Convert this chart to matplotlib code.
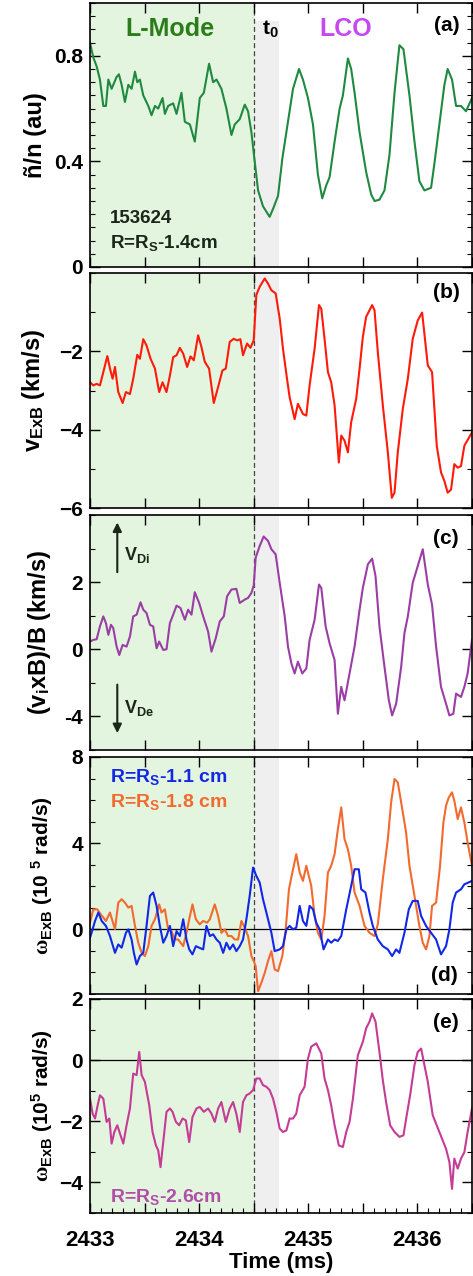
#!/usr/bin/env python3
# LCO time traces: density fluctuation, ExB velocity, vixB/B, ExB shear

import matplotlib
matplotlib.use("Agg")
from matplotlib import pyplot as plt
from matplotlib.ticker import MultipleLocator, FuncFormatter, FixedLocator, FixedFormatter, NullLocator

################
#   DATA       #
################
# (a) density fluctuation level, au
t_a = [2433.000, 2433.030, 2433.061, 2433.091, 2433.122, 2433.146, 2433.168, 2433.198, 2433.244, 2433.265,
       2433.290, 2433.320, 2433.351, 2433.381, 2433.412, 2433.433, 2433.457, 2433.488, 2433.534, 2433.564,
       2433.595, 2433.625, 2433.665, 2433.686, 2433.716, 2433.762, 2433.793, 2433.838, 2433.869, 2433.915,
       2433.960, 2434.006, 2434.043, 2434.091, 2434.128, 2434.159, 2434.204, 2434.250, 2434.296, 2434.326,
       2434.372, 2434.418, 2434.448, 2434.479, 2434.509, 2434.540, 2434.585, 2434.646, 2434.677, 2434.723,
       2434.762, 2434.799, 2434.860, 2434.915, 2434.951, 2434.997, 2435.043, 2435.088, 2435.128, 2435.165,
       2435.195, 2435.241, 2435.287, 2435.317, 2435.363, 2435.393, 2435.424, 2435.470, 2435.530, 2435.576,
       2435.607, 2435.652, 2435.698, 2435.744, 2435.790, 2435.835, 2435.872, 2435.927, 2435.973, 2436.018,
       2436.064, 2436.125, 2436.155, 2436.201, 2436.247, 2436.277, 2436.317, 2436.354, 2436.399, 2436.445,
       2436.500]
ntilde = [0.85, 0.794, 0.76, 0.71, 0.61, 0.61, 0.71, 0.675, 0.72, 0.73,
          0.69, 0.625, 0.69, 0.675, 0.74, 0.70, 0.71, 0.65, 0.61, 0.575,
          0.61, 0.60, 0.64, 0.58, 0.61, 0.62, 0.58, 0.66, 0.55, 0.54,
          0.475, 0.64, 0.66, 0.77, 0.70, 0.71, 0.675, 0.60, 0.50, 0.54,
          0.56, 0.615, 0.59, 0.51, 0.40, 0.29, 0.23, 0.19, 0.22, 0.27,
          0.41, 0.51, 0.675, 0.75, 0.71, 0.64, 0.54, 0.35, 0.26, 0.31,
          0.34, 0.475, 0.60, 0.65, 0.79, 0.75, 0.66, 0.51, 0.36, 0.275,
          0.25, 0.255, 0.29, 0.425, 0.66, 0.84, 0.825, 0.65, 0.475, 0.325,
          0.29, 0.30, 0.39, 0.54, 0.69, 0.75, 0.71, 0.61, 0.61, 0.59,
          0.64]

# (b) v_ExB, km/s
t_b = [2433.000, 2433.030, 2433.061, 2433.091, 2433.122, 2433.159, 2433.183, 2433.207, 2433.229, 2433.259,
       2433.299, 2433.329, 2433.366, 2433.396, 2433.433, 2433.457, 2433.488, 2433.518, 2433.555, 2433.595,
       2433.634, 2433.665, 2433.701, 2433.732, 2433.762, 2433.793, 2433.823, 2433.854, 2433.890, 2433.921,
       2433.951, 2433.991, 2434.021, 2434.052, 2434.091, 2434.134, 2434.174, 2434.213, 2434.244, 2434.280,
       2434.317, 2434.348, 2434.378, 2434.402, 2434.439, 2434.470, 2434.500, 2434.524, 2434.555, 2434.601,
       2434.631, 2434.662, 2434.701, 2434.738, 2434.768, 2434.805, 2434.829, 2434.875, 2434.905, 2434.951,
       2434.982, 2435.012, 2435.058, 2435.098, 2435.119, 2435.149, 2435.180, 2435.210, 2435.241, 2435.280,
       2435.302, 2435.332, 2435.363, 2435.393, 2435.439, 2435.470, 2435.500, 2435.530, 2435.585, 2435.607,
       2435.637, 2435.683, 2435.729, 2435.765, 2435.790, 2435.820, 2435.866, 2435.912, 2435.957, 2436.003,
       2436.043, 2436.095, 2436.134, 2436.177, 2436.216, 2436.247, 2436.277, 2436.308, 2436.338, 2436.369,
       2436.399, 2436.430, 2436.500]
v_exb = [-2.79, -2.87, -2.83, -2.87, -2.53, -2.12, -2.44, -2.70, -2.40, -3.04,
         -3.32, -3.04, -3.09, -2.70, -2.09, -2.19, -1.69, -1.85, -2.19, -2.44,
         -3.04, -2.79, -3.04, -2.62, -2.15, -2.10, -1.91, -2.06, -2.40, -2.13,
         -2.23, -1.59, -1.89, -2.27, -2.44, -3.32, -2.91, -2.49, -2.44, -1.76,
         -1.68, -1.72, -1.69, -2.10, -1.80, -1.91, -1.72, -0.56, -0.35, -0.14,
         -0.27, -0.44, -0.52, -1.16, -1.93, -2.70, -3.17, -3.73, -3.34, -3.60,
         -3.64, -2.87, -1.93, -0.82, -0.91, -1.68, -2.53, -2.79, -3.38, -4.84,
         -4.15, -4.28, -4.58, -3.81, -3.21, -2.44, -1.63, -1.12, -0.82, -0.95,
         -2.02, -3.38, -4.58, -5.74, -5.61, -4.58, -3.47, -2.70, -1.68, -1.21,
         -1.01, -2.36, -2.53, -4.41, -5.09, -5.31, -5.61, -5.53, -4.88, -4.97,
         -4.93, -4.41, -4.07]

# (c) (v_i x B)/B, km/s
t_c = [2433.000, 2433.030, 2433.061, 2433.091, 2433.122, 2433.146, 2433.168, 2433.192, 2433.213, 2433.244,
       2433.268, 2433.299, 2433.335, 2433.366, 2433.396, 2433.427, 2433.463, 2433.488, 2433.518, 2433.549,
       2433.579, 2433.610, 2433.634, 2433.671, 2433.701, 2433.732, 2433.762, 2433.793, 2433.829, 2433.869,
       2433.899, 2433.930, 2433.960, 2434.000, 2434.037, 2434.082, 2434.113, 2434.152, 2434.189, 2434.226,
       2434.256, 2434.296, 2434.341, 2434.372, 2434.418, 2434.448, 2434.479, 2434.500, 2434.518, 2434.555,
       2434.591, 2434.631, 2434.662, 2434.701, 2434.738, 2434.784, 2434.814, 2434.845, 2434.875, 2434.905,
       2434.945, 2434.982, 2435.012, 2435.058, 2435.098, 2435.119, 2435.159, 2435.195, 2435.241, 2435.271,
       2435.302, 2435.332, 2435.378, 2435.424, 2435.470, 2435.500, 2435.546, 2435.585, 2435.616, 2435.652,
       2435.698, 2435.738, 2435.768, 2435.805, 2435.851, 2435.881, 2435.912, 2435.957, 2436.003, 2436.049,
       2436.095, 2436.134, 2436.171, 2436.216, 2436.262, 2436.293, 2436.329, 2436.354, 2436.399, 2436.430,
       2436.460, 2436.500]
vixb = [0.23, 0.28, 0.30, 0.68, 0.98, 0.78, 0.43, 0.73, 0.63, 0.08,
        -0.17, 0.13, 0.08, 0.38, 0.98, 1.03, 1.40, 1.18, 1.08, 0.73,
        0.68, 0.03, 0.23, -0.02, 0.00, 0.78, 1.03, 1.30, 1.23, 0.88,
        1.18, 1.03, 1.70, 1.38, 0.98, 0.53, -0.07, 0.33, 0.83, 0.98,
        1.58, 1.78, 1.80, 1.38, 1.48, 1.53, 1.68, 1.90, 2.73, 3.08,
        3.36, 3.23, 2.98, 2.83, 1.98, 0.98, 0.08, -0.42, -0.72, -0.37,
        -0.72, -0.57, 0.28, 0.88, 1.93, 1.83, 0.68, 0.18, -0.32, -1.92,
        -1.12, -1.52, -0.72, 0.08, 1.18, 1.83, 2.53, 2.70, 2.18, 0.68,
        -0.52, -1.52, -1.97, -1.62, -0.52, 0.48, 0.98, 1.98, 2.48, 2.98,
        1.93, 1.33, 0.08, -1.12, -1.62, -1.97, -1.92, -1.32, -1.42, -1.12,
        -0.72, 0.28]
vixb_ticks = [-2, 0, 2]
vixb_ticklabels = ["-4", "0", "2"]

# (d) omega_ExB at two radii, 1e5 rad/s
t_d1 = [2433.000, 2433.024, 2433.046, 2433.076, 2433.107, 2433.146, 2433.183, 2433.229, 2433.259, 2433.290,
        2433.329, 2433.351, 2433.381, 2433.402, 2433.427, 2433.457, 2433.488, 2433.518, 2433.549, 2433.579,
        2433.610, 2433.640, 2433.671, 2433.701, 2433.732, 2433.762, 2433.793, 2433.823, 2433.854, 2433.884,
        2433.909, 2433.939, 2433.970, 2434.000, 2434.037, 2434.067, 2434.098, 2434.128, 2434.159, 2434.189,
        2434.220, 2434.250, 2434.280, 2434.311, 2434.341, 2434.372, 2434.402, 2434.433, 2434.463, 2434.494,
        2434.524, 2434.555, 2434.585, 2434.616, 2434.662, 2434.692, 2434.738, 2434.768, 2434.799, 2434.829,
        2434.860, 2434.890, 2434.921, 2434.951, 2434.982, 2435.012, 2435.043, 2435.073, 2435.104, 2435.140,
        2435.180, 2435.210, 2435.241, 2435.271, 2435.302, 2435.348, 2435.393, 2435.424, 2435.463, 2435.485,
        2435.524, 2435.561, 2435.591, 2435.637, 2435.683, 2435.729, 2435.768, 2435.805, 2435.835, 2435.881,
        2435.921, 2435.957, 2436.003, 2436.034, 2436.079, 2436.125, 2436.171, 2436.216, 2436.262, 2436.293,
        2436.323, 2436.354, 2436.399, 2436.430, 2436.500]
w_11 = [-0.39, 0.0, 0.39, 0.78, 0.39, 0.16, -0.31, -1.09, -0.70, -0.85,
        -0.16, 0.0, -0.47, -1.09, -1.63, -1.24, -1.09, 0.16, 1.55, 1.71,
        1.09, 0.16, -0.62, -0.31, 0.16, -0.78, -0.08, -0.31, 0.47, -0.47,
        -0.93, -1.16, -0.78, -0.85, -0.93, 0.16, -0.31, -0.23, -0.47, -0.62,
        -1.09, -0.62, -0.93, -0.70, -1.01, -0.78, -0.47, 0.47, 1.55, 2.87,
        2.48, 2.17, 1.40, 0.78, -0.16, -1.01, -0.93, -0.78, 0.0, 0.16,
        0.0, 0.08, 1.09, 0.39, 0.16, 1.09, 0.93, 0.31, 0.0, -0.93,
        -0.47, -0.62, -0.47, -0.54, -0.31, 0.93, 2.02, 2.79, 2.79, 1.86,
        1.71, 0.78, 0.16, -0.47, -0.78, -0.93, -1.24, -0.93, -1.09, -0.16,
        0.93, 1.32, 1.32, 0.62, 0.16, -0.16, -0.47, -1.16, -0.78, 0.0,
        1.24, 1.71, 1.86, 2.09, 2.25]
t_d2 = [2433.000, 2433.030, 2433.067, 2433.098, 2433.146, 2433.183, 2433.229, 2433.259, 2433.290, 2433.320,
        2433.351, 2433.381, 2433.412, 2433.442, 2433.473, 2433.503, 2433.534, 2433.564, 2433.595, 2433.634,
        2433.655, 2433.686, 2433.716, 2433.747, 2433.777, 2433.808, 2433.854, 2433.884, 2433.909, 2433.939,
        2433.970, 2434.006, 2434.037, 2434.073, 2434.098, 2434.143, 2434.174, 2434.204, 2434.235, 2434.265,
        2434.296, 2434.326, 2434.357, 2434.387, 2434.418, 2434.448, 2434.479, 2434.500, 2434.518, 2434.540,
        2434.570, 2434.601, 2434.631, 2434.662, 2434.692, 2434.723, 2434.762, 2434.793, 2434.823, 2434.854,
        2434.890, 2434.921, 2434.951, 2434.982, 2435.027, 2435.058, 2435.088, 2435.119, 2435.149, 2435.180,
        2435.210, 2435.241, 2435.271, 2435.302, 2435.332, 2435.363, 2435.393, 2435.424, 2435.470, 2435.515,
        2435.561, 2435.607, 2435.637, 2435.683, 2435.729, 2435.759, 2435.790, 2435.820, 2435.851, 2435.896,
        2435.927, 2435.973, 2436.018, 2436.049, 2436.079, 2436.110, 2436.134, 2436.171, 2436.207, 2436.238,
        2436.262, 2436.287, 2436.317, 2436.338, 2436.369, 2436.399, 2436.430, 2436.460, 2436.500]
w_18 = [0.31, 0.93, 0.93, 0.70, 0.39, 0.78, 0.0, 1.24, 1.40, 1.24,
        1.01, 1.09, 0.16, -0.62, -1.09, -1.24, -0.78, 0.16, 0.47, 1.16,
        0.78, 0.93, 0.0, -0.08, -0.47, -0.47, -0.78, -0.16, 0.47, 1.16,
        0.47, 0.23, 0.39, 0.31, 0.47, 1.16, 0.62, -0.16, 0.0, -0.31,
        -0.31, -0.47, -0.47, 0.39, 0.08, -0.31, -1.24, -1.47, -1.71, -2.87,
        -2.48, -2.02, -1.47, -1.01, -1.86, -1.94, -1.24, 0.0, 1.86, 2.64,
        3.49, 2.64, 2.25, 2.95, 2.02, 0.62, -0.16, -0.47, 0.62, 2.64,
        2.95, 3.49, 4.65, 5.66, 4.19, 3.72, 2.95, 1.71, 1.09, 0.16,
        -0.16, -0.31, 0.23, 2.33, 4.19, 5.89, 6.98, 6.82, 5.89, 4.50,
        2.95, 1.55, 0.16, -0.62, -0.93, -0.31, 1.09, 1.24, 2.95, 4.96,
        5.74, 6.12, 6.36, 5.97, 5.12, 5.66, 4.96, 4.03, 2.95]

# (e) omega_ExB at R=Rs-2.6cm, 1e5 rad/s
t_e = [2433.000, 2433.024, 2433.046, 2433.070, 2433.091, 2433.122, 2433.152, 2433.177, 2433.198, 2433.223,
       2433.250, 2433.280, 2433.305, 2433.335, 2433.366, 2433.396, 2433.427, 2433.451, 2433.473, 2433.503,
       2433.543, 2433.573, 2433.604, 2433.625, 2433.646, 2433.671, 2433.701, 2433.732, 2433.756, 2433.787,
       2433.817, 2433.848, 2433.878, 2433.909, 2433.939, 2433.976, 2434.006, 2434.043, 2434.082, 2434.113,
       2434.143, 2434.174, 2434.204, 2434.244, 2434.280, 2434.311, 2434.341, 2434.372, 2434.402, 2434.433,
       2434.463, 2434.494, 2434.524, 2434.555, 2434.585, 2434.616, 2434.646, 2434.677, 2434.707, 2434.738,
       2434.768, 2434.799, 2434.829, 2434.860, 2434.890, 2434.921, 2434.966, 2434.997, 2435.027, 2435.073,
       2435.119, 2435.149, 2435.180, 2435.210, 2435.241, 2435.280, 2435.317, 2435.348, 2435.378, 2435.409,
       2435.454, 2435.500, 2435.530, 2435.561, 2435.585, 2435.616, 2435.652, 2435.683, 2435.713, 2435.750,
       2435.790, 2435.835, 2435.872, 2435.902, 2435.933, 2435.973, 2436.003, 2436.034, 2436.064, 2436.095,
       2436.140, 2436.201, 2436.262, 2436.293, 2436.317, 2436.338, 2436.369, 2436.399, 2436.430, 2436.460,
       2436.500]
w_26 = [-1.26, -1.75, -1.91, -1.48, -1.15, -1.26, -2.02, -1.91, -2.73, -2.35,
        -2.13, -2.46, -2.73, -2.13, -1.58, -0.44, -0.49, 0.27, -0.49, -0.71,
        -1.48, -2.35, -2.79, -2.95, -3.50, -2.68, -1.69, -1.58, -1.69, -2.02,
        -2.13, -1.91, -1.97, -2.68, -1.86, -1.58, -1.53, -1.69, -1.58, -1.75,
        -2.02, -1.58, -1.37, -2.02, -1.58, -1.37, -1.75, -2.35, -1.37, -1.15,
        -1.09, -0.98, -0.60, -0.60, -0.82, -0.87, -0.98, -1.26, -1.69, -2.24,
        -2.35, -2.30, -1.91, -1.91, -1.75, -1.15, -0.87, 0.05, 0.44, 0.55,
        0.22, -0.60, -0.98, -1.48, -2.13, -2.79, -2.84, -2.35, -2.02, -1.26,
        0.16, 0.60, 1.04, 1.26, 1.53, 1.26, 0.27, -0.66, -1.37, -2.13,
        -2.35, -2.51, -2.46, -1.80, -1.15, -0.16, 0.27, 0.38, -0.16, -0.71,
        -1.80, -2.35, -2.90, -3.33, -4.21, -3.22, -3.55, -3.22, -3.01, -2.35,
        -1.58]

t_lmode_end = 2434.5
t0_band_end = 2434.73

####################
#   STYLE          #
####################
plt.rcParams["font.family"] = ["Liberation Sans", "DejaVu Sans"]
plt.rcParams["font.weight"] = "bold"
plt.rcParams["axes.labelweight"] = "bold"
plt.rcParams["mathtext.fontset"] = "custom"
plt.rcParams["mathtext.rm"] = "Liberation Sans:bold"
plt.rcParams["mathtext.it"] = "Liberation Sans:bold"
plt.rcParams["mathtext.bf"] = "Liberation Sans:bold"
plt.rcParams["mathtext.sf"] = "Liberation Serif"

GREEN_BG = "#e4f5df"
GRAY_BG = "#efefef"
TXT_DARK = "#1a261a"

fig = plt.figure(figsize=(4.73, 12.76), dpi=100)
W, H = 473.0, 1276.0


def add_panel(top, bottom):
    # pixel box -> figure fraction
    return fig.add_axes([90 / W, (H - bottom) / H, 382 / W, (bottom - top) / H])


boxes = [(3, 267), (273, 508), (515, 750), (757, 994), (999, 1213)]
axes = [add_panel(t, b) for t, b in boxes]


def dress(ax, ylim, band_top=1.0):
    ax.set_xlim(2433, 2436.5)
    ax.set_ylim(*ylim)
    ax.axvspan(2433, t_lmode_end, color=GREEN_BG, lw=0, zorder=0)
    ax.axvspan(t_lmode_end, t0_band_end, ymax=band_top, color=GRAY_BG, lw=0, zorder=0)
    ax.axvline(t_lmode_end, color="#444444", lw=0.9, ls=(0, (4, 2.5)), zorder=1)
    ax.xaxis.set_major_locator(MultipleLocator(0.5))
    ax.xaxis.set_minor_locator(NullLocator())
    ax.xaxis.set_major_formatter(FuncFormatter(lambda v, p: "%d" % v if abs(v - round(v)) < 1e-6 else ""))
    ax.tick_params(which="both", direction="in", top=True, right=True, labelsize=15, pad=5)
    ax.tick_params(which="major", length=7, width=1)
    ax.tick_params(which="minor", length=3.5, width=0.8)
    for s in ax.spines.values():
        s.set_linewidth(1.2)
    ax.tick_params(axis="x", labelbottom=False)


ax_a, ax_b, ax_c, ax_d, ax_e = axes

# (a)
dress(ax_a, (0, 1.0), band_top=0.93)
ax_a.plot(t_a, ntilde, color="#1f8a3f", lw=1.5)
ax_a.yaxis.set_major_locator(FixedLocator([0, 0.4, 0.8]))
ax_a.yaxis.set_major_formatter(FixedFormatter(["0", "0.4", "0.8"]))
ax_a.yaxis.set_minor_locator(MultipleLocator(0.05))
ax_a.set_ylabel("ñ/n (au)", fontsize=17)
ax_a.yaxis.set_label_coords(-0.113, 0.5)
xt = ax_a.get_xaxis_transform()
ax_a.text(2433.73, 0.9, "L-Mode", transform=xt, color="#2a7d18", fontsize=18, ha="center", va="center")
ax_a.text(2434.65, 0.9, "t$_0$", transform=xt, color="black", fontsize=15, ha="center", va="center")
ax_a.text(2435.34, 0.9, "LCO", transform=xt, color="#c648f2", fontsize=18, ha="center", va="center")
ax_a.text(2436.27, 0.915, "(a)", transform=xt, fontsize=15, ha="center", va="center")
ax_a.text(2433.18, 0.185, "153624", transform=xt, color=TXT_DARK, fontsize=13.5, ha="left", va="center")
ax_a.text(2433.18, 0.09, "R=R$_S$-1.4cm", transform=xt, color=TXT_DARK, fontsize=13.5, ha="left", va="center")

# (b)
dress(ax_b, (-6, 0))
ax_b.plot(t_b, v_exb, color="#ff1a0a", lw=1.5)
ax_b.yaxis.set_major_locator(FixedLocator([-6, -4, -2]))
ax_b.yaxis.set_minor_locator(MultipleLocator(1))
ax_b.set_ylabel("v$_{ExB}$ (km/s)", fontsize=17)
ax_b.yaxis.set_label_coords(-0.113, 0.5)
ax_b.text(2436.27, 0.915, "(b)", transform=ax_b.get_xaxis_transform(), fontsize=15, ha="center", va="center")

# (c)
dress(ax_c, (-3, 4))
ax_c.plot(t_c, vixb, color="#9a3ea6", lw=1.5)
ax_c.yaxis.set_major_locator(FixedLocator(vixb_ticks))
ax_c.yaxis.set_major_formatter(FixedFormatter(vixb_ticklabels))
ax_c.yaxis.set_minor_locator(MultipleLocator(1))
ax_c.set_ylabel("(v$_i$xB)/B (km/s)", fontsize=17)
ax_c.yaxis.set_label_coords(-0.097, 0.5)
xt = ax_c.get_xaxis_transform()
ax_c.text(2436.26, 0.9, "(c)", transform=xt, fontsize=15, ha="center", va="center")
ax_c.annotate("", xy=(2433.25, 0.98), xytext=(2433.25, 0.745), xycoords=xt, textcoords=xt,
              arrowprops=dict(arrowstyle="-|>", color=TXT_DARK, lw=1.5, mutation_scale=13))
ax_c.annotate("", xy=(2433.25, 0.06), xytext=(2433.25, 0.29), xycoords=xt, textcoords=xt,
              arrowprops=dict(arrowstyle="-|>", color=TXT_DARK, lw=1.5, mutation_scale=13))
ax_c.text(2433.31, 0.83, "V$_{Di}$", transform=xt, color=TXT_DARK, fontsize=13, ha="left", va="center")
ax_c.text(2433.31, 0.18, "V$_{De}$", transform=xt, color=TXT_DARK, fontsize=13, ha="left", va="center")

# (d)
dress(ax_d, (-3, 8))
ax_d.axhline(0, color="black", lw=0.9, zorder=1)
ax_d.plot(t_d2, w_18, color="#f26a2e", lw=1.5)
ax_d.plot(t_d1, w_11, color="#1228e6", lw=1.5)
ax_d.yaxis.set_major_locator(FixedLocator([0, 4, 8]))
ax_d.yaxis.set_minor_locator(MultipleLocator(1))
ax_d.set_ylabel(r"$\mathsf{\omega}_{ExB}$ (10 $^5$ rad/s)", fontsize=15)
ax_d.yaxis.set_label_coords(-0.092, 0.5)
xt = ax_d.get_xaxis_transform()
ax_d.text(2433.18, 0.915, "R=R$_S$-1.1 cm", transform=xt, color="#1228e6", fontsize=14, ha="left", va="center")
ax_d.text(2433.18, 0.81, "R=R$_S$-1.8 cm", transform=xt, color="#f26a2e", fontsize=14, ha="left", va="center")
ax_d.text(2436.25, 0.08, "(d)", transform=xt, fontsize=15, ha="center", va="center")

# (e)
dress(ax_e, (-5, 2))
ax_e.axhline(0, color="black", lw=0.9, zorder=1)
ax_e.plot(t_e, w_26, color="#c53b95", lw=1.5)
ax_e.yaxis.set_major_locator(FixedLocator([-4, -2, 0, 2]))
ax_e.yaxis.set_minor_locator(MultipleLocator(1))
ax_e.xaxis.set_minor_locator(MultipleLocator(0.1))
ax_e.set_ylabel(r"$\mathsf{\omega}_{ExB}$ (10$^5$ rad/s)", fontsize=15)
ax_e.yaxis.set_label_coords(-0.092, 0.5)
xt = ax_e.get_xaxis_transform()
ax_e.text(2436.26, 0.89, "(e)", transform=xt, fontsize=15, ha="center", va="center")
ax_e.text(2433.18, 0.075, "R=R$_S$-2.6cm", transform=xt, color="#b04ea8", fontsize=14, ha="left", va="center")
ax_e.tick_params(axis="x", which="minor", top=False)
ax_e.tick_params(axis="x", labelbottom=True, pad=12, labelsize=16)
ax_e.set_xlabel("Time (ms)", fontsize=16, labelpad=1)

fig.savefig("out.png", dpi=100)
